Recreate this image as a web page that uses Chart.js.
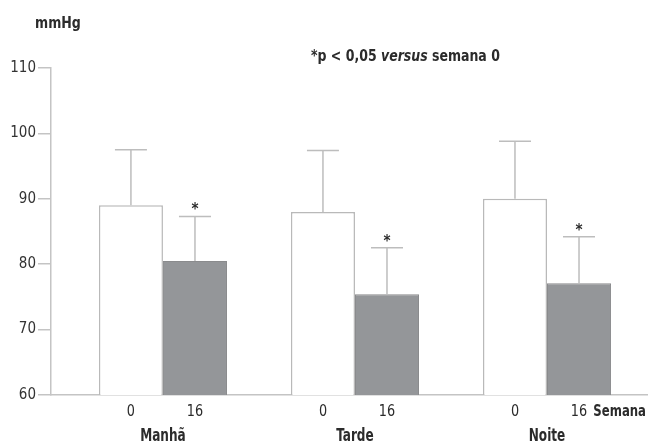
<!DOCTYPE html>
<html>
<head>
<meta charset="utf-8">
<script src="https://cdn.jsdelivr.net/npm/chart.js@4/dist/chart.umd.min.js"></script>
<style>
  html, body { margin: 0; padding: 0; background: #fff; }
  #wrap { width: 648px; height: 447px; position: relative; }
</style>
</head>
<body>
<div id="wrap"><canvas id="c" width="648" height="447"></canvas></div>
<script>
// ---- Data ----
const groups = ['Manhã', 'Tarde', 'Noite'];
const weekLabels = ['0', '16'];
const week0Mean = [89.0, 88.0, 90.0];
const week16Mean = [80.5, 75.4, 77.1];
const week0Upper = [97.5, 97.4, 98.8];
const week16Upper = [87.3, 82.5, 84.2];
const significant16 = [true, true, true];
const yTicks = [60, 70, 80, 90, 100, 110];

const FONT = "'Liberation Sans Narrow', 'DejaVu Sans Condensed', 'Roboto', sans-serif";
const TEXT = '#2b2b2b';
const AXIS = '#c4c4c4';

const d0 = groups.map((g, i) => ({ x: i, y: week0Mean[i] }));
const d16 = groups.map((g, i) => ({ x: i, y: week16Mean[i] }));
const uppers = [week0Upper, week16Upper];

// draws text horizontally compressed to mimic a condensed face; returns drawn width
function condText(ctx, t, x, y, font, sx, align) {
  ctx.save();
  ctx.font = font;
  const w = ctx.measureText(t).width * sx;
  let left = x;
  if (align === 'center') left = x - w / 2;
  else if (align === 'right') left = x - w;
  ctx.translate(left, y);
  ctx.scale(sx, 1);
  ctx.textAlign = 'left';
  ctx.textBaseline = 'middle';
  ctx.fillText(t, 0, 0);
  ctx.restore();
  return w;
}

const overlay = {
  id: 'overlay',
  afterDatasetsDraw(chart) {
    const ctx = chart.ctx;
    const ys = chart.scales.y;
    const xs = chart.scales.x;
    ctx.save();
    ctx.fillStyle = TEXT;
    chart.data.datasets.forEach((ds, di) => {
      const meta = chart.getDatasetMeta(di);
      meta.data.forEach((bar, i) => {
        const yTop = ys.getPixelForValue(uppers[di][i]);
        ctx.strokeStyle = '#bdbdbd';
        ctx.lineWidth = 1.5;
        ctx.beginPath();
        ctx.moveTo(bar.x, bar.y);
        ctx.lineTo(bar.x, yTop);
        ctx.moveTo(bar.x - 16, yTop);
        ctx.lineTo(bar.x + 16, yTop);
        ctx.stroke();
        if (di === 1 && significant16[i]) {
          ctx.font = 'bold 15px ' + FONT;
          ctx.textAlign = 'center';
          ctx.textBaseline = 'middle';
          ctx.fillText('*', bar.x, yTop - 6);
        }
        condText(ctx, weekLabels[di], bar.x, 412, '15px ' + FONT, 0.95, 'center');
      });
    });
    groups.forEach((g, i) => {
      condText(ctx, g, xs.getPixelForValue(i), 437, 'bold 17px ' + FONT, 0.79, 'center');
    });
    condText(ctx, 'Semana', 646, 412, 'bold 15px ' + FONT, 0.867, 'right');
    condText(ctx, 'mmHg', 35, 24, 'bold 16px ' + FONT, 0.875, 'left');
    const parts = [
      ['*p < 0,05 ', 'bold 16px ' + FONT],
      ['versus', 'italic bold 16px ' + FONT],
      [' semana 0', 'bold 16px ' + FONT]
    ];
    let x = 311;
    parts.forEach(([t, f]) => {
      x += condText(ctx, t, x, 57, f, 0.87, 'left');
    });
    ctx.restore();
  }
};

new Chart(document.getElementById('c'), {
  type: 'bar',
  data: {
    datasets: [
      { label: '0', data: d0, backgroundColor: '#ffffff', borderColor: '#b9b9b9', borderWidth: 1.5 },
      { label: '16', data: d16, backgroundColor: '#949699', borderColor: '#8a8b8d', borderWidth: 1 }
    ]
  },
  options: {
    responsive: false,
    animation: false,
    devicePixelRatio: 1,
    categoryPercentage: 0.667,
    barPercentage: 1.0,
    layout: { padding: { top: 68, right: 0, bottom: 0, left: 0 } },
    plugins: { legend: { display: false }, tooltip: { enabled: false } },
    scales: {
      x: {
        type: 'linear',
        min: -0.583,
        max: 2.526,
        offset: false,
        afterBuildTicks(s) { s.ticks = groups.map((g, i) => ({ value: i })); },
        grid: { display: false },
        border: { display: true, color: AXIS, width: 1.5 },
        ticks: { display: false },
        afterFit(s) { s.height = 52; }
      },
      y: {
        min: 60,
        max: 110,
        afterBuildTicks(s) { s.ticks = yTicks.map(v => ({ value: v })); },
        grid: { drawOnChartArea: false, drawTicks: true, tickLength: 13, color: AXIS, lineWidth: 1.5 },
        border: { display: true, color: AXIS, width: 1.5 },
        ticks: { padding: 2, color: '#333', font: { family: FONT, size: 15 } },
        afterFit(s) { s.width = 51; }
      }
    }
  },
  plugins: [overlay]
});
</script>
</body>
</html>
